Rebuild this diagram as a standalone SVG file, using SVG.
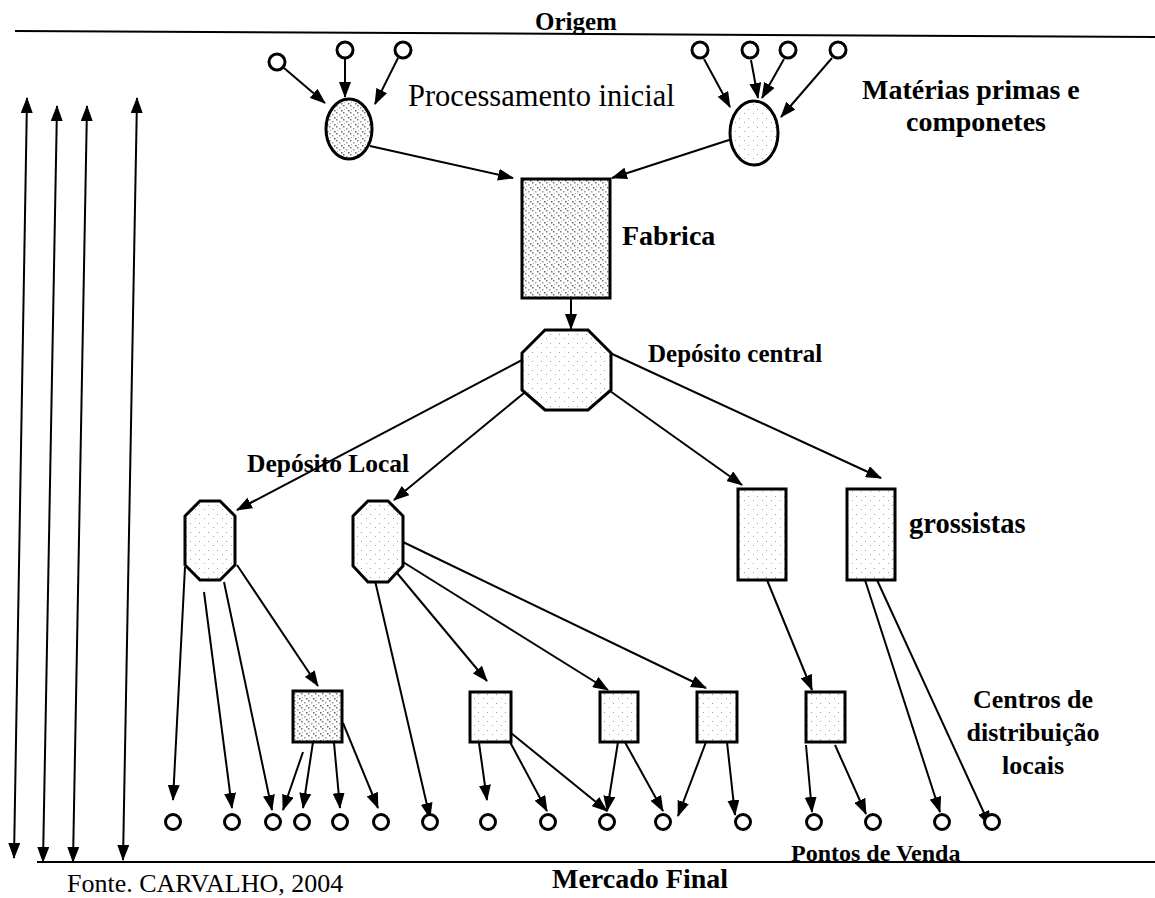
<svg xmlns="http://www.w3.org/2000/svg" width="1155" height="898" viewBox="0 0 1155 898">
  <style>
    .bg { fill: #ffffff; }
    .rule { stroke: #000; stroke-width: 2; fill: none; }
    .link { stroke: #000; stroke-width: 2; fill: none; marker-end: url(#arrow); }
    .span { stroke: #000; stroke-width: 2; fill: none; marker-start: url(#arrowStart); marker-end: url(#arrow); }
    .dot { fill: #fff; stroke: #000; stroke-width: 3; }
    .box { stroke: #000; stroke-width: 3; }
    .lbl { font-family: "Liberation Serif", "Times New Roman", serif; fill: #000; }
    .b { font-weight: bold; }
  </style>
  <defs>
    <marker id="arrow" markerUnits="userSpaceOnUse" markerWidth="16" markerHeight="12" refX="15" refY="6" orient="auto">
      <path d="M0,0 L16,6 L0,12 Z" fill="#000"/>
    </marker>
    <marker id="arrowStart" markerUnits="userSpaceOnUse" markerWidth="16" markerHeight="12" refX="1" refY="6" orient="auto">
      <path d="M16,0 L0,6 L16,12 Z" fill="#000"/>
    </marker>
    <!-- stippled grey fills -->
    <pattern id="grainDense" width="7" height="7" patternUnits="userSpaceOnUse">
      <rect width="7" height="7" fill="#fff"/>
      <rect x="0" y="0" width="1.5" height="1.5" fill="#777"/>
      <rect x="3" y="2" width="1.5" height="1.5" fill="#999"/>
      <rect x="5" y="5" width="1.5" height="1.5" fill="#666"/>
      <rect x="1" y="4" width="1" height="1" fill="#aaa"/>
    </pattern>
    <pattern id="grainLight" width="9" height="9" patternUnits="userSpaceOnUse">
      <rect width="9" height="9" fill="#fff"/>
      <rect x="1" y="1" width="1" height="1" fill="#999"/>
      <rect x="6" y="5" width="1" height="1" fill="#aaa"/>
    </pattern>
  </defs>

  <rect class="bg" width="1155" height="898"/>

  <!-- horizontal boundaries -->
  <g id="rules">
    <line class="rule" x1="15" y1="31" x2="1155" y2="37"/>
    <line class="rule" x1="37" y1="862" x2="1155" y2="862"/>
  </g>

  <!-- connectors -->
  <g id="connectors">
    <!-- vertical span arrows at left -->
    <line class="span" x1="14" y1="858" x2="27" y2="98"/>
    <line class="span" x1="43" y1="862" x2="57" y2="106"/>
    <line class="span" x1="73" y1="862" x2="87" y2="106"/>
    <line class="span" x1="123" y1="860" x2="137" y2="98"/>

    <!-- raw materials to initial processing -->
    <line class="link" x1="284" y1="68" x2="325" y2="103"/>
    <line class="link" x1="345" y1="59" x2="345" y2="97"/>
    <line class="link" x1="398" y1="58" x2="375" y2="104"/>
    <line class="link" x1="704" y1="59" x2="730" y2="107"/>
    <line class="link" x1="751" y1="60" x2="758" y2="98"/>
    <line class="link" x1="784" y1="59" x2="762" y2="98"/>
    <line class="link" x1="832" y1="58" x2="781" y2="117"/>

    <!-- processing to factory -->
    <line class="link" x1="370" y1="146" x2="513" y2="178"/>
    <line class="link" x1="729" y1="140" x2="612" y2="178"/>

    <!-- factory to central warehouse -->
    <line class="link" x1="571" y1="298" x2="571" y2="329"/>

    <!-- central warehouse outward -->
    <line class="link" x1="522" y1="360" x2="237" y2="510"/>
    <line class="link" x1="524" y1="393" x2="394" y2="500"/>
    <line class="link" x1="610" y1="391" x2="742" y2="485"/>
    <line class="link" x1="610" y1="353" x2="881" y2="478"/>

    <!-- local warehouse 1 -->
    <line class="link" x1="185" y1="567" x2="173" y2="800"/>
    <line class="link" x1="204" y1="592" x2="232" y2="808"/>
    <line class="link" x1="224" y1="582" x2="272" y2="810"/>
    <line class="link" x1="237" y1="565" x2="318" y2="686"/>

    <!-- local warehouse 2 -->
    <line class="link" x1="373" y1="572" x2="430" y2="818"/>
    <line class="link" x1="397" y1="573" x2="487" y2="681"/>
    <line class="link" x1="403" y1="562" x2="608" y2="690"/>
    <line class="link" x1="403" y1="542" x2="706" y2="688"/>

    <!-- wholesalers -->
    <line class="link" x1="767" y1="580" x2="812" y2="690"/>
    <line class="link" x1="865" y1="580" x2="940" y2="812"/>
    <line class="link" x1="877" y1="580" x2="990" y2="826"/>

    <!-- local distribution centres to points of sale -->
    <line class="link" x1="303" y1="752" x2="283" y2="810"/>
    <line class="link" x1="313" y1="742" x2="303" y2="808"/>
    <line class="link" x1="333" y1="732" x2="340" y2="808"/>
    <line class="link" x1="343" y1="723" x2="378" y2="808"/>

    <line class="link" x1="479" y1="743" x2="487" y2="800"/>
    <line class="link" x1="510" y1="742" x2="547" y2="811"/>
    <line class="link" x1="511" y1="733" x2="607" y2="811"/>

    <line class="link" x1="618" y1="742" x2="607" y2="811"/>
    <line class="link" x1="621" y1="735" x2="663" y2="811"/>

    <line class="link" x1="706" y1="742" x2="678" y2="816"/>
    <line class="link" x1="727" y1="742" x2="735" y2="815"/>

    <line class="link" x1="806" y1="745" x2="812" y2="812"/>
    <line class="link" x1="835" y1="745" x2="866" y2="814"/>
  </g>

  <!-- raw material sources -->
  <g id="sources">
    <circle class="dot" cx="277" cy="62" r="8"/>
    <circle class="dot" cx="345" cy="50" r="8"/>
    <circle class="dot" cx="403" cy="50" r="8"/>
    <circle class="dot" cx="700" cy="50" r="8"/>
    <circle class="dot" cx="750" cy="50" r="8"/>
    <circle class="dot" cx="788" cy="50" r="8"/>
    <circle class="dot" cx="838" cy="50" r="8"/>
  </g>

  <g id="processing-left">
    <ellipse class="box" cx="349" cy="129" rx="23" ry="30" fill="url(#grainDense)"/>
  </g>
  <g id="processing-right">
    <ellipse class="box" cx="754" cy="133" rx="24" ry="32" fill="url(#grainLight)"/>
  </g>

  <g id="factory">
    <rect class="box" x="522" y="179" width="88" height="119" fill="url(#grainDense)"/>
  </g>

  <g id="central-warehouse">
    <polygon class="box" points="545,330 588,330 611,353 611,390 588,410 545,410 522,390 522,353" fill="url(#grainLight)"/>
  </g>

  <g id="local-warehouse-1">
    <polygon class="box" points="200,501 220,501 235,516 235,565 220,580 200,580 185,565 185,516" fill="url(#grainLight)"/>
  </g>
  <g id="local-warehouse-2">
    <polygon class="box" points="368,501 388,501 403,516 403,566 388,582 368,582 353,566 353,516" fill="url(#grainLight)"/>
  </g>

  <g id="wholesaler-1">
    <rect class="box" x="738" y="489" width="48" height="91" fill="url(#grainLight)"/>
  </g>
  <g id="wholesaler-2">
    <rect class="box" x="847" y="489" width="48" height="91" fill="url(#grainLight)"/>
  </g>

  <g id="dc-1"><rect class="box" x="293" y="691" width="49" height="51" fill="url(#grainDense)"/></g>
  <g id="dc-2"><rect class="box" x="470" y="692" width="41" height="50" fill="url(#grainLight)"/></g>
  <g id="dc-3"><rect class="box" x="600" y="692" width="38" height="50" fill="url(#grainLight)"/></g>
  <g id="dc-4"><rect class="box" x="697" y="692" width="40" height="50" fill="url(#grainLight)"/></g>
  <g id="dc-5"><rect class="box" x="806" y="692" width="39" height="50" fill="url(#grainLight)"/></g>

  <!-- points of sale -->
  <g id="points-of-sale">
    <circle class="dot" cx="173" cy="822" r="7.5"/>
    <circle class="dot" cx="232" cy="822" r="7.5"/>
    <circle class="dot" cx="273" cy="822" r="7.5"/>
    <circle class="dot" cx="302" cy="822" r="7.5"/>
    <circle class="dot" cx="340" cy="822" r="7.5"/>
    <circle class="dot" cx="381" cy="822" r="7.5"/>
    <circle class="dot" cx="430" cy="822" r="7.5"/>
    <circle class="dot" cx="488" cy="822" r="7.5"/>
    <circle class="dot" cx="548" cy="822" r="7.5"/>
    <circle class="dot" cx="607" cy="822" r="7.5"/>
    <circle class="dot" cx="663" cy="822" r="7.5"/>
    <circle class="dot" cx="743" cy="822" r="7.5"/>
    <circle class="dot" cx="814" cy="822" r="7.5"/>
    <circle class="dot" cx="873" cy="822" r="7.5"/>
    <circle class="dot" cx="942" cy="822" r="7.5"/>
    <circle class="dot" cx="992" cy="822" r="7.5"/>
  </g>

  <!-- labels -->
  <g id="labels">
    <text class="lbl b" x="535" y="30" font-size="25">Origem</text>
    <text class="lbl" x="408" y="106" font-size="30.5">Processamento inicial</text>
    <text class="lbl b" x="862" y="99" font-size="28">Matérias primas e</text>
    <text class="lbl b" x="976" y="131" font-size="28" text-anchor="middle">componetes</text>
    <text class="lbl b" x="622" y="245" font-size="28">Fabrica</text>
    <text class="lbl b" x="648" y="362" font-size="25">Depósito central</text>
    <text class="lbl b" x="247" y="472" font-size="25.5">Depósito Local</text>
    <text class="lbl b" x="909" y="533" font-size="28.5">grossistas</text>
    <text class="lbl b" x="1033" y="708" font-size="26" text-anchor="middle">Centros de</text>
    <text class="lbl b" x="1033" y="741" font-size="26" text-anchor="middle">distribuição</text>
    <text class="lbl b" x="1033" y="774" font-size="26" text-anchor="middle">locais</text>
    <text class="lbl b" x="791" y="861" font-size="24">Pontos de Venda</text>
    <text class="lbl b" x="552" y="888" font-size="28">Mercado Final</text>
    <text class="lbl" x="67" y="892" font-size="26">Fonte. CARVALHO, 2004</text>
  </g>
</svg>
